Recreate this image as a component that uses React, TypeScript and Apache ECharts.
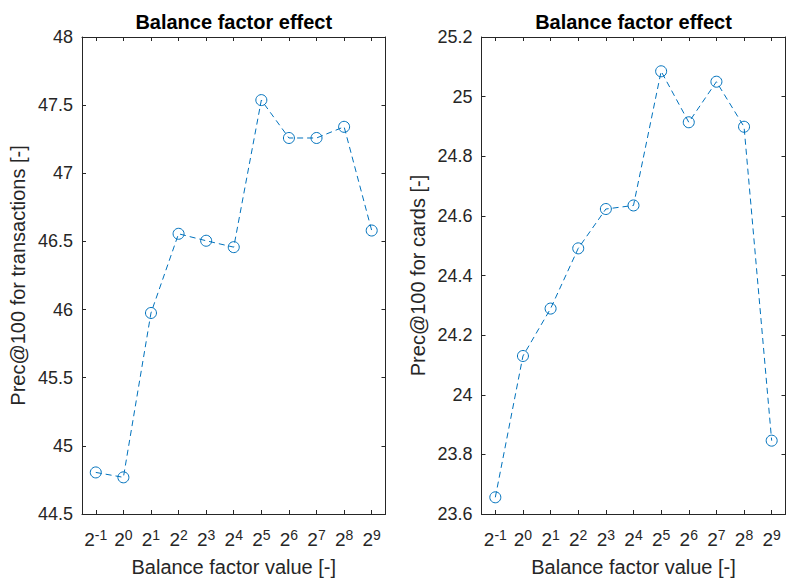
import React, { useEffect, useRef } from "react";
import * as echarts from "echarts";

const exponents = ["-1", "0", "1", "2", "3", "4", "5", "6", "7", "8", "9"];
const transactions = [44.805, 44.769, 45.975, 46.556, 46.505, 46.458, 47.537, 47.259, 47.259, 47.341, 46.58];
const cards = [23.656, 24.13, 24.289, 24.491, 24.623, 24.635, 25.085, 24.914, 25.05, 24.899, 23.846];
const titleText = "Balance factor effect";
const xName = "Balance factor value [-]";
const yNames = ["Prec@100 for transactions [-]", "Prec@100 for cards [-]"];

const AX = "#262626";
const BLUE = "#0072BD";
const FONT = "'Liberation Sans', Arial, Helvetica, sans-serif";

export default function App() {
  const ref = useRef<HTMLDivElement>(null);
  useEffect(() => {
    if (!ref.current) return;
    const chart = echarts.init(ref.current, null, { renderer: "svg" });
    const grids = [
      { left: 82, right: 400.5, top: 37, bottom: 64, containLabel: false, outerBoundsMode: "none" },
      { left: 481.5, right: 0.5, top: 37, bottom: 64, containLabel: false, outerBoundsMode: "none" },
    ];
    const yRanges = [
      { min: 44.5, max: 48, interval: 0.5 },
      { min: 23.6, max: 25.2, interval: 0.2 },
    ];
    const xAxes: any[] = [];
    const yAxes: any[] = [];
    const series: any[] = [];
    [0, 1].forEach((g) => {
      const baseX = {
        type: "category",
        gridIndex: g,
        data: exponents,
        boundaryGap: true,
        axisLine: { show: true, lineStyle: { color: AX, width: 1 } },
        axisTick: { show: true, inside: true, length: 4, alignWithLabel: true, lineStyle: { color: AX } },
        splitLine: { show: false },
      };
      xAxes.push({
        ...baseX,
        position: "bottom",
        name: xName,
        nameLocation: "middle",
        nameGap: 43,
        nameTextStyle: { color: AX, fontSize: 20, fontFamily: FONT },
        axisLabel: {
          margin: 14,
          interval: 0,
          formatter: (v: string) => `{b|2}{s|${v}}`,
          rich: {
            b: { fontSize: 19, fontFamily: FONT, color: AX, lineHeight: 22 },
            s: { fontSize: 14, fontFamily: FONT, color: AX, verticalAlign: "top", lineHeight: 14 },
          },
        },
      });
      xAxes.push({ ...baseX, position: "top", axisLabel: { show: false } });
      const baseY = {
        type: "value",
        gridIndex: g,
        ...yRanges[g],
        axisLine: { show: true, lineStyle: { color: AX, width: 1 } },
        axisTick: { show: true, inside: true, length: 4, lineStyle: { color: AX } },
        splitLine: { show: false },
      };
      yAxes.push({
        ...baseY,
        position: "left",
        axisLabel: {
          margin: 9,
          color: AX,
          fontSize: 18,
          fontFamily: FONT,
          formatter: (v: number) => String(parseFloat(v.toFixed(2))),
        },
      });
      yAxes.push({ ...baseY, position: "right", axisLabel: { show: false } });
      series.push({
        type: "line",
        xAxisIndex: g * 2,
        yAxisIndex: g * 2,
        data: g === 0 ? transactions : cards,
        symbol: "circle",
        symbolSize: 11,
        lineStyle: { color: BLUE, width: 1, type: [6, 4] },
        itemStyle: { color: "rgba(0,0,0,0)", borderColor: BLUE, borderWidth: 1 },
        emphasis: { disabled: true },
      });
    });
    const centers = [82 + (786 - 400.5 - 82) / 2, 481.5 + (786 - 0.5 - 481.5) / 2];
    chart.setOption({
      animation: false,
      backgroundColor: "#ffffff",
      grid: grids,
      xAxis: xAxes,
      yAxis: yAxes,
      series,
      graphic: [
        ...[0, 1].map((g) => ({
          type: "text",
          x: centers[g],
          y: 22,
          style: {
            text: titleText,
            align: "center",
            verticalAlign: "middle",
            font: `bold 20px ${FONT}`,
            fill: "#000000",
          },
        })),
        ...[0, 1].map((g) => ({
          type: "text",
          x: g === 0 ? 18 : 418,
          y: 275.5,
          rotation: Math.PI / 2,
          style: {
            text: yNames[g],
            align: "center",
            verticalAlign: "middle",
            font: `20px ${FONT}`,
            fill: AX,
          },
        })),
      ],
    });
    return () => chart.dispose();
  }, []);
  return (
    <div
      ref={ref}
      style={{ position: "fixed", left: 0, top: 0, width: 786, height: 578, background: "#fff" }}
    />
  );
}
